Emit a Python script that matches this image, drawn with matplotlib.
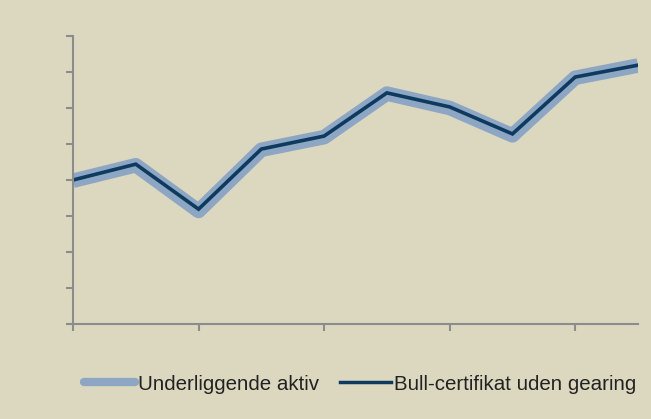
import matplotlib.pyplot as plt

# Values (axis units: 0 at bottom, 8 at top)
periods = [0, 1, 2, 3, 4, 5, 6, 7, 8, 9]
underlying = [3.98, 4.41, 3.14, 4.84, 5.19, 6.40, 6.00, 5.24, 6.84, 7.18]
bull_no_gearing = [4.00, 4.44, 3.19, 4.86, 5.22, 6.42, 6.03, 5.28, 6.86, 7.19]
x_ticks = [0, 2, 4, 6, 8]
y_ticks = [0, 1, 2, 3, 4, 5, 6, 7, 8]

bg = '#dcd8c0'
light = '#8ca6c4'
dark = '#0d3a5e'
axis_col = '#8c8c8c'

plt.rcParams['font.family'] = ['Liberation Sans', 'DejaVu Sans']

fig = plt.figure(figsize=(6.51, 4.19), dpi=100, facecolor=bg)
ax = fig.add_axes([73 / 651, 95 / 419, 565 / 651, 288 / 419])
ax.set_facecolor(bg)

ax.plot(periods, underlying, color=light, lw=10.5, solid_joinstyle='round',
        solid_capstyle='butt', label='Underliggende aktiv')
ax.plot(periods, bull_no_gearing, color=dark, lw=2.6, solid_joinstyle='miter',
        label='Bull-certifikat uden gearing')

ax.set_xlim(0, 9)
ax.set_ylim(0, 8)
ax.set_xticks(x_ticks)
ax.set_yticks(y_ticks)
ax.set_xticklabels([])
ax.set_yticklabels([])
ax.tick_params(direction='out', length=5, width=1.5, color=axis_col)

for s in ['top', 'right']:
    ax.spines[s].set_visible(False)
for s in ['left', 'bottom']:
    ax.spines[s].set_color(axis_col)
    ax.spines[s].set_linewidth(1.5)

leg = fig.legend(loc='center', bbox_to_anchor=(360 / 651, 1 - 384 / 419), ncol=2,
                 frameon=False, fontsize=14.8, handlelength=2.5,
                 handletextpad=0.15, columnspacing=1.0)
for t in leg.get_texts():
    t.set_color('#222222')
leg.get_lines()[0].set_linewidth(6)
leg.get_lines()[0].set_solid_capstyle('round')
leg.get_lines()[1].set_linewidth(2.5)

fig.savefig('out.png', dpi=100, facecolor=bg)
